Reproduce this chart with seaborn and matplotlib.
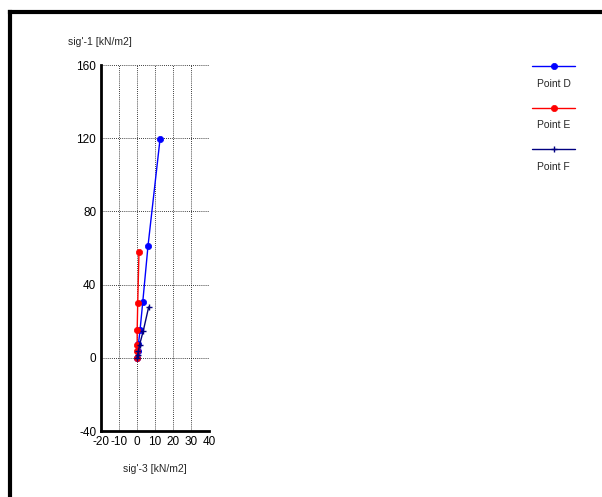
import matplotlib
matplotlib.use("Agg")
import matplotlib.pyplot as plt
import seaborn as sns
import pandas as pd

sns.set_style("white")
plt.rcParams['font.family'] = ['Liberation Sans', 'DejaVu Sans']

# Data
d_sig3 = [0.0, 0.4, 0.8, 1.7, 3.2, 6.1, 12.8]
d_sig1 = [0.0, 3.8, 7.5, 15.2, 30.5, 61.0, 119.5]
e_sig3 = [0.0, 0.0, 0.1, 0.1, 0.4, 1.1]
e_sig1 = [0.0, 3.7, 7.2, 15.2, 29.8, 57.8]
f_sig3 = [0.0, 0.4, 0.8, 1.4, 3.5, 6.5]
f_sig1 = [0.0, 1.8, 3.5, 7.0, 14.8, 27.8]
series_names = ["Point D", "Point E", "Point F"]
x_ticks = [-20, -10, 0, 10, 20, 30, 40]
y_ticks = [-40, 0, 40, 80, 120, 160]

colors = {"Point D": "#0000ff", "Point E": "#ff0000", "Point F": "#000080"}
markers = {"Point D": "o", "Point E": "o", "Point F": "+"}

frames = []
for name, xs, ys in zip(series_names, [d_sig3, e_sig3, f_sig3], [d_sig1, e_sig1, f_sig1]):
    frames.append(pd.DataFrame({"sig3": xs, "sig1": ys, "series": name, "order": range(len(xs))}))
df = pd.concat(frames, ignore_index=True)


def mstyle(name):
    if markers[name] == "o":
        return dict(marker="o", markersize=4.5, markeredgewidth=0.5,
                    markeredgecolor=colors[name], markerfacecolor=colors[name])
    return dict(marker="+", markersize=5, markeredgewidth=1.0, markeredgecolor=colors[name])


W, H = 602, 497
fig = plt.figure(figsize=(W / 100, H / 100), dpi=100)
ax = fig.add_axes([101 / W, 1 - 431 / H, (209 - 101) / W, (431 - 65) / H])

for name in series_names:
    sub = df[df.series == name]
    sns.lineplot(data=sub, x="sig3", y="sig1", sort=False, estimator=None, ax=ax,
                 color=colors[name], linewidth=1, legend=False, **mstyle(name))

ax.set_xlim(-20, 40)
ax.set_ylim(-40, 160)
ax.set_xticks(x_ticks)
ax.set_yticks(y_ticks)
ax.set_xticklabels([str(t) for t in x_ticks], fontsize=8.5)
ax.set_yticklabels([str(t) for t in y_ticks], fontsize=8.5)
ax.grid(True, color="black", linestyle=(0, (1, 1.5)), linewidth=0.6)
ax.tick_params(direction="inout", length=5, width=1, pad=1, colors="black")
for s in ["left", "bottom"]:
    ax.spines[s].set_linewidth(2)
    ax.spines[s].set_color("black")
for s in ["top", "right"]:
    ax.spines[s].set_visible(False)
ax.set_xlabel("")
ax.set_ylabel("")

fig.text(100 / W, 1 - 42 / H, "sig'-1 [kN/m2]", fontsize=7.5, ha="center", va="center")
fig.text(155 / W, 1 - 469 / H, "sig'-3 [kN/m2]", fontsize=7.5, ha="center", va="center")

# Legend (manual, line above label)
lax = fig.add_axes([0, 0, 1, 1])
lax.set_xlim(0, W)
lax.set_ylim(H, 0)
lax.axis("off")
lax.patch.set_alpha(0)
for i, name in enumerate(series_names):
    yl = 66 + i * 41.5
    lax.plot([532, 575], [yl, yl], color=colors[name], linewidth=1)
    lax.plot([553.5], [yl], color=colors[name], **mstyle(name))
    lax.text(553.5, yl + 18, name, fontsize=7.5, ha="center", va="center")

# Outer frame (left and top thick lines)
lax.plot([10, 10], [12, H + 5], color="black", linewidth=3, solid_capstyle="projecting")
lax.plot([10, W + 5], [12, 12], color="black", linewidth=3, solid_capstyle="projecting")

fig.savefig("out.png", dpi=100)
